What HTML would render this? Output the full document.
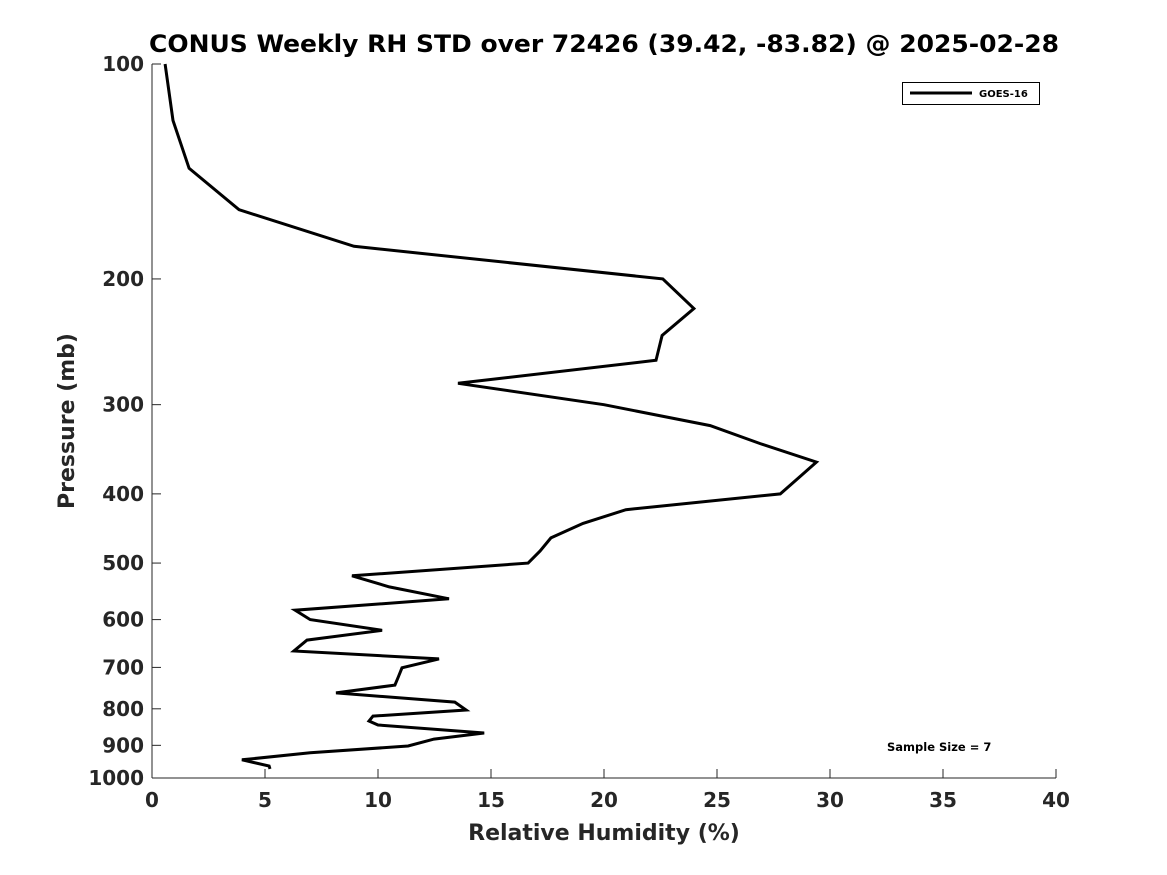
<!DOCTYPE html>
<html><head><meta charset="utf-8"><style>
body{margin:0;background:#fff}
svg{display:block;font-family:"DejaVu Sans","Liberation Sans",sans-serif}
</style></head><body>
<svg id="chart" width="1167" height="875">
<rect width="1167" height="875" fill="#fff"/>
<text x="604" y="52" text-anchor="middle" font-size="24" font-weight="bold" fill="#000" textLength="910" lengthAdjust="spacingAndGlyphs">CONUS Weekly RH STD over 72426 (39.42, -83.82) @ 2025-02-28</text>
<g id="axes"></g>
<path id="line" fill="none" stroke="#000" stroke-width="3" stroke-linejoin="miter"/>
<text x="0" y="0" text-anchor="middle" font-size="22" font-weight="bold" fill="#262626" transform="translate(74 421) rotate(-90)">Pressure (mb)</text>
<text x="604" y="840" text-anchor="middle" font-size="22" font-weight="bold" fill="#262626">Relative Humidity (%)</text>
<g>
<rect x="902.5" y="82.5" width="137" height="22" fill="#fff" stroke="#000" stroke-width="1"/>
<line x1="910" y1="93" x2="972" y2="93" stroke="#000" stroke-width="3"/>
<text x="979" y="97" font-size="10" font-weight="bold" fill="#000">GOES-16</text>
</g>
<text x="887" y="751" font-size="11.5" font-weight="bold" fill="#000">Sample Size = 7</text>
</svg>
<script>
const rhValues=[0.58,0.93,1.64,3.85,8.94,22.6,23.98,22.57,22.3,13.54,20.0,24.7,26.9,29.4,28.6,27.8,20.97,19.07,17.65,17.17,16.64,8.85,10.5,13.14,6.33,7.0,10.18,6.86,6.28,12.7,11.06,10.9,10.75,8.14,13.4,13.9,9.78,9.6,10.0,14.7,12.48,11.33,7.0,3.98,5.18,5.22];
const pressures=[100,120,140,160,180,200,220,240,260,280,300,321,340,361,380,400,421,440,461,481,500,521,540,561,582,600,621,641,664,681,701,722,741,760,783,803,819,832,843,865,882,902,922,943,962,971];
const xTicks=[0,5,10,15,20,25,30,35,40];
const yTicks=[100,200,300,400,500,600,700,800,900,1000];
const X0=152,X1=1056,Y0=64,Y1=778;
function xs(v){return X0+(v-0)/40*(X1-X0);}
function ys(p){return Y0+Math.log10(p/100)*(Y1-Y0);}
const ns="http://www.w3.org/2000/svg";
const ax=document.getElementById('axes');
function mk(t,a){const e=document.createElementNS(ns,t);for(const k in a)e.setAttribute(k,a[k]);return e;}
let l=mk('line',{x1:X0,y1:Y0,x2:X0,y2:Y1,stroke:'#262626','stroke-width':1});


ax.appendChild(l);
l=mk('line',{x1:X0,y1:Y1,x2:X1,y2:Y1,stroke:'#262626','stroke-width':1});


ax.appendChild(l);
xTicks.forEach(v=>{
 const x=xs(v);
 const t=mk('line',{x1:x,y1:Y1,x2:x,y2:Y1-9,stroke:'#262626','stroke-width':1});
 
 
 ax.appendChild(t);
 const tx=mk('text',{x:x,y:Y1+29,'text-anchor':'middle','font-size':20,'font-weight':'bold',fill:'#262626'});
 tx.textContent=v;
 
 
 ax.appendChild(tx);
});
yTicks.forEach(p=>{
 const y=ys(p);
 const t=mk('line',{x1:X0,y1:y,x2:X0+9,y2:y,stroke:'#262626','stroke-width':1});
 
 
 ax.appendChild(t);
 const tx=mk('text',{x:X0-8,y:y+7,'text-anchor':'end','font-size':20,'font-weight':'bold',fill:'#262626'});
 tx.textContent=p;
 
 
 ax.appendChild(tx);
});
document.getElementById('line').setAttribute('d',rhValues.map((v,i)=>(i?'L':'M')+xs(v).toFixed(1)+','+ys(pressures[i]).toFixed(1)).join(''));
</script>
</body></html>
